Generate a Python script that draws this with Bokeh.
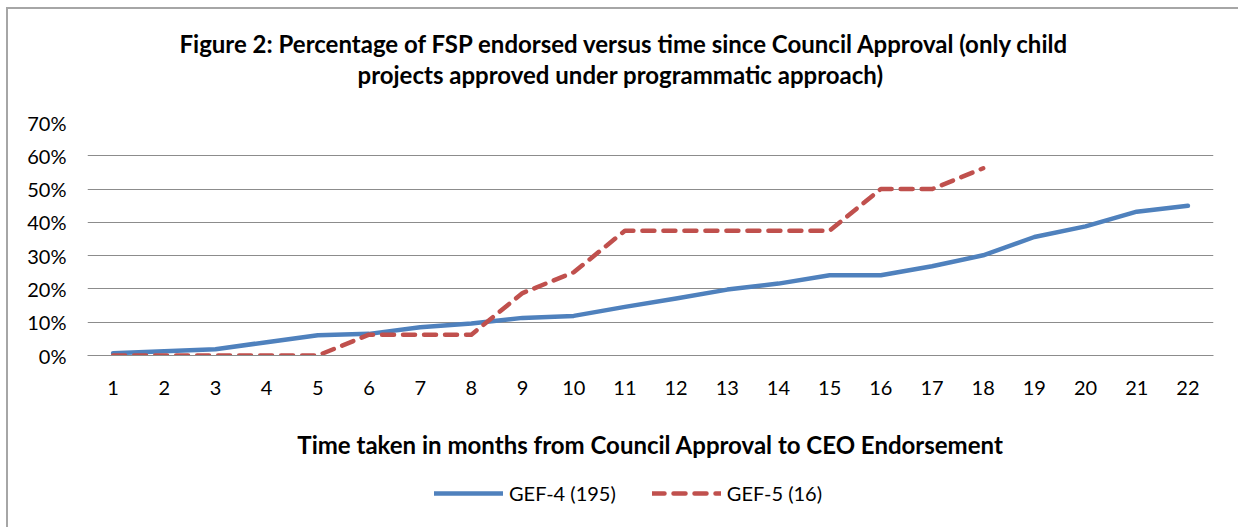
from bokeh.plotting import figure
from bokeh.layouts import column
from bokeh.models import (Range1d, FixedTicker, NumeralTickFormatter, Title,
                          Legend, LegendItem, ColumnDataSource)
from bokeh.embed import file_html
from bokeh.resources import INLINE

months = list(range(1, 23))
gef4 = [0.007, 0.013, 0.019, 0.040, 0.061, 0.065, 0.085, 0.096, 0.113, 0.119,
        0.146, 0.171, 0.198, 0.216, 0.241, 0.241, 0.268, 0.301, 0.356, 0.388,
        0.432, 0.450]
gef5_months = list(range(1, 19))
gef5 = [0.0, 0.0, 0.0, 0.0, 0.0, 0.0625, 0.0625, 0.0625, 0.1875, 0.25,
        0.375, 0.375, 0.375, 0.375, 0.375, 0.50, 0.50, 0.5625]
y_ticks = [0.0, 0.1, 0.2, 0.3, 0.4, 0.5, 0.6, 0.7]
title_line1 = "Figure 2: Percentage of FSP endorsed versus time since Council Approval (only child"
title_line2 = "projects approved under programmatic approach)"
x_title = "Time taken in months from Council Approval to CEO Endorsement"
series_names = ["GEF-4 (195)", "GEF-5 (16)"]

FONT = "Lato"
BLUE = "#4F81BD"
RED = "#C0504D"
GRID = "#8C8C8C"
BORDER = "#A6A6A6"

# ---------- main chart ----------
p = figure(width=1230, height=461, output_backend="svg", toolbar_location=None,
           x_range=Range1d(0.5, 22.5), y_range=Range1d(0, 0.7),
           min_border_left=79, min_border_right=25, min_border_top=113,
           min_border_bottom=115)
p.outline_line_color = None
p.background_fill_color = "white"
p.border_fill_color = "white"

spacer = Title(text=" ", text_font=FONT, text_font_size="26.5px", standoff=0)
t2 = Title(text=title_line2, align="left", offset=270, text_font=FONT,
           text_font_size="24px", text_font_style="bold", text_color="black",
           standoff=0)
t1 = Title(text=title_line1, align="left", offset=92, text_font=FONT,
           text_font_size="24px", text_font_style="bold", text_color="black",
           standoff=0)
p.add_layout(spacer, "above")
p.add_layout(t2, "above")
p.add_layout(t1, "above")

p.xaxis.ticker = FixedTicker(ticks=months)
p.xaxis.major_label_overrides = {m: str(m) for m in months}
p.xaxis.axis_line_color = GRID
p.xaxis.major_tick_line_color = None
p.xaxis.minor_tick_line_color = None
p.xaxis.major_label_text_font = FONT
p.xaxis.major_label_text_font_size = "20px"
p.xaxis.major_label_text_color = "black"
p.xaxis.major_label_standoff = 19
p.xaxis.axis_label = x_title
p.xaxis.axis_label_text_font = FONT
p.xaxis.axis_label_text_font_size = "24px"
p.xaxis.axis_label_text_font_style = "bold"
p.xaxis.axis_label_text_color = "black"
p.xaxis.axis_label_standoff = 32

p.yaxis.ticker = FixedTicker(ticks=y_ticks)
p.yaxis.formatter = NumeralTickFormatter(format="0%")
p.yaxis.axis_line_color = None
p.yaxis.major_tick_line_color = None
p.yaxis.minor_tick_line_color = None
p.yaxis.major_label_text_font = FONT
p.yaxis.major_label_text_font_size = "20px"
p.yaxis.major_label_text_color = "black"
p.yaxis.major_label_standoff = 15

p.xgrid.grid_line_color = None
p.ygrid.grid_line_color = GRID
p.ygrid.grid_line_width = 1
p.ygrid.ticker = FixedTicker(ticks=y_ticks)

src4 = ColumnDataSource(dict(x=months, y=gef4))
src5 = ColumnDataSource(dict(x=gef5_months, y=gef5))
style4 = dict(line_color=BLUE, line_width=4.5, line_join="round", line_cap="round")
style5 = dict(line_color=RED, line_width=4.5, line_dash="12 9",
              line_join="round", line_cap="round")
p.line("x", "y", source=src4, **style4)
p.line("x", "y", source=src5, **style5)

# ---------- legend strip (same series, viewed outside their extent) ----------
lg = figure(width=1230, height=57, output_backend="svg", toolbar_location=None,
            x_range=Range1d(-10, -9), y_range=Range1d(-10, -9),
            min_border_left=0, min_border_right=0, min_border_top=0,
            min_border_bottom=0)
lg.axis.visible = False
lg.grid.visible = False
lg.outline_line_color = None
lg.background_fill_color = "white"
lg.border_fill_color = "white"
k4 = lg.line("x", "y", source=src4, **style4)
k5 = lg.line("x", "y", source=src5, **style5)
legend = Legend(items=[LegendItem(label=series_names[0], renderers=[k4]),
                       LegendItem(label=series_names[1], renderers=[k5])],
                orientation="horizontal", location=(347, 22),
                label_text_font=FONT, label_text_font_size="20px",
                label_text_color="black", glyph_width=69, glyph_height=24,
                spacing=36, label_standoff=6, border_line_color=None,
                background_fill_alpha=0, margin=0, padding=0)
lg.add_layout(legend, "center")

layout = column(p, lg, spacing=0,
                styles={"border-top": f"2px solid {BORDER}",
                        "border-left": f"2px solid {BORDER}",
                        "margin-left": "6px", "margin-top": "7px"})

open("out.html", "w").write(file_html(layout, INLINE))
